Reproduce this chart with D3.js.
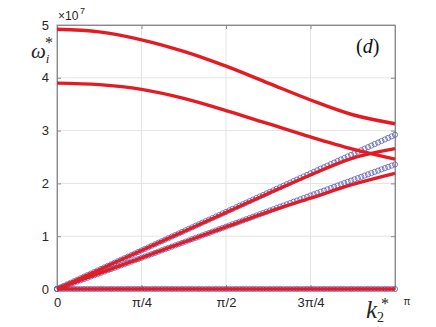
<!DOCTYPE html>
<html>
<head>
<meta charset="utf-8">
<script src="https://cdn.jsdelivr.net/npm/d3@7"></script>
<style>
  body { margin: 0; background: #fff; }
  #chart text { font-family: "Liberation Sans", Arial, sans-serif; }
</style>
</head>
<body>
<div id="chart"></div>
<script>
// k in units of pi, for the dispersion curves (red lines)
const kRed = [0, 0.125, 0.25, 0.375, 0.5, 0.625, 0.75, 0.875, 1];
const redTop = [4.92, 4.87, 4.72, 4.50, 4.22, 3.90, 3.58, 3.30, 3.13];
const redSecond = [3.90, 3.87, 3.78, 3.61, 3.38, 3.13, 2.88, 2.65, 2.46];
const redRiseUpper = [0, 0.365, 0.73, 1.09, 1.45, 1.81, 2.16, 2.48, 2.66];
const redRiseLower = [0, 0.295, 0.59, 0.885, 1.175, 1.46, 1.72, 1.98, 2.19];
const redBottom = [0, 0, 0, 0, 0, 0, 0, 0, 0];

// circle markers (blue), 101 samples over [0, pi]
const kBlue = d3.range(101).map(i => i / 100);
const blueUpper = [
  0, .029, .058, .088, .117, .146, .175, .204, .234, .263,
  .292, .321, .350, .380, .409, .438, .467, .496, .526, .555,
  .584, .613, .642, .672, .701, .730, .759, .788, .818, .847,
  .876, .905, .934, .964, .993, 1.022, 1.051, 1.080, 1.110, 1.139,
  1.168, 1.197, 1.226, 1.256, 1.285, 1.314, 1.343, 1.372, 1.402, 1.431,
  1.460, 1.489, 1.518, 1.548, 1.577, 1.606, 1.635, 1.664, 1.694, 1.723,
  1.752, 1.781, 1.810, 1.840, 1.869, 1.898, 1.927, 1.956, 1.986, 2.015,
  2.044, 2.073, 2.102, 2.132, 2.161, 2.190, 2.219, 2.248, 2.278, 2.307,
  2.336, 2.365, 2.394, 2.424, 2.453, 2.482, 2.511, 2.540, 2.570, 2.599,
  2.628, 2.657, 2.686, 2.716, 2.745, 2.774, 2.803, 2.832, 2.862, 2.891,
  2.920
];
const blueLower = [
  0, .024, .047, .071, .094, .118, .142, .165, .189, .212,
  .236, .260, .283, .307, .330, .354, .378, .401, .425, .448,
  .472, .496, .519, .543, .566, .590, .614, .637, .661, .684,
  .708, .732, .755, .779, .802, .826, .850, .873, .897, .920,
  .944, .968, .991, 1.015, 1.038, 1.062, 1.086, 1.109, 1.133, 1.156,
  1.180, 1.204, 1.227, 1.251, 1.274, 1.298, 1.322, 1.345, 1.369, 1.392,
  1.416, 1.440, 1.463, 1.487, 1.510, 1.534, 1.558, 1.581, 1.605, 1.628,
  1.652, 1.676, 1.699, 1.723, 1.746, 1.770, 1.794, 1.817, 1.841, 1.864,
  1.888, 1.912, 1.935, 1.959, 1.982, 2.006, 2.030, 2.053, 2.077, 2.100,
  2.124, 2.148, 2.171, 2.195, 2.218, 2.242, 2.266, 2.289, 2.313, 2.336,
  2.360
];
const blueBottom = [
  0, 0, 0, 0, 0, 0, 0, 0, 0, 0, 0, 0, 0, 0, 0, 0, 0, 0, 0, 0,
  0, 0, 0, 0, 0, 0, 0, 0, 0, 0, 0, 0, 0, 0, 0, 0, 0, 0, 0, 0,
  0, 0, 0, 0, 0, 0, 0, 0, 0, 0, 0, 0, 0, 0, 0, 0, 0, 0, 0, 0,
  0, 0, 0, 0, 0, 0, 0, 0, 0, 0, 0, 0, 0, 0, 0, 0, 0, 0, 0, 0,
  0, 0, 0, 0, 0, 0, 0, 0, 0, 0, 0, 0, 0, 0, 0, 0, 0, 0, 0, 0,
  0
];

const xTicks = [0, 0.25, 0.5, 0.75, 1];
const xTickLabels = ["0", "\u03c0/4", "\u03c0/2", "3\u03c0/4", "\u03c0"];
const yTicks = [0, 1, 2, 3, 4, 5];

const W = 436, H = 327;
const margin = { top: 25, right: 41, bottom: 38, left: 57 };
const width = W - margin.left - margin.right;
const height = H - margin.top - margin.bottom;

const svg = d3.select("#chart").append("svg")
  .attr("width", W).attr("height", H);

const g = svg.append("g")
  .attr("transform", `translate(${margin.left},${margin.top})`);

const x = d3.scaleLinear().domain([0, 1]).range([0, width]);
const y = d3.scaleLinear().domain([0, 5]).range([height, 0]);

// grid
g.append("g").selectAll("line.gx")
  .data(xTicks.slice(1, -1)).enter().append("line")
  .attr("x1", d => x(d)).attr("x2", d => x(d))
  .attr("y1", 0).attr("y2", height)
  .attr("stroke", "#e4e4e4").attr("stroke-width", 1);
g.append("g").selectAll("line.gy")
  .data(yTicks.slice(1, -1)).enter().append("line")
  .attr("x1", 0).attr("x2", width)
  .attr("y1", d => y(d)).attr("y2", d => y(d))
  .attr("stroke", "#e4e4e4").attr("stroke-width", 1);

// box
g.append("rect")
  .attr("width", width).attr("height", height)
  .attr("fill", "none").attr("stroke", "#9a9a9a").attr("stroke-width", 1);

// axes (inward ticks)
const yAxis = g.append("g")
  .call(d3.axisLeft(y).tickValues(yTicks).tickFormat(d3.format("d"))
    .tickSizeInner(-4).tickSizeOuter(0).tickPadding(8));
const yAxisR = g.append("g").attr("transform", `translate(${width},0)`)
  .call(d3.axisRight(y).tickValues(yTicks).tickSizeInner(-4).tickSizeOuter(0).tickFormat(""));
const xAxisT = g.append("g")
  .call(d3.axisTop(x).tickValues(xTicks).tickSizeInner(-4).tickSizeOuter(0).tickFormat(""));
const xAxis = g.append("g").attr("transform", `translate(0,${height})`)
  .call(d3.axisBottom(x).tickValues(xTicks.slice(0, -1))
    .tickFormat((d, i) => xTickLabels[i]).tickSizeInner(-4).tickSizeOuter(0).tickPadding(9));
[yAxis, yAxisR, xAxisT, xAxis].forEach(a => {
  a.select(".domain").attr("stroke", "#8a8a8a");
  a.selectAll(".tick line").attr("stroke", "#8a8a8a");
  a.selectAll("text").attr("fill", "#262626").style("font-size", "13px");
});

// pi label sits beside the k label
g.append("text")
  .attr("x", x(1) + 12).attr("y", height + 16)
  .attr("fill", "#262626").style("font-size", "10px")
  .attr("text-anchor", "middle")
  .text(xTickLabels[4]);

// blue circles
const blueSets = [blueBottom, blueLower, blueUpper];
blueSets.forEach(vals => {
  g.append("g").selectAll("circle")
    .data(vals).enter().append("circle")
    .attr("cx", (d, i) => x(kBlue[i]))
    .attr("cy", d => y(d))
    .attr("r", 2.6)
    .attr("fill", "none")
    .attr("stroke", "#5a5ab4")
    .attr("stroke-width", 0.8);
});

// red lines
const line = d3.line()
  .x((d, i) => x(kRed[i]))
  .y(d => y(d))
  .curve(d3.curveCatmullRom.alpha(0.5));
[redBottom, redRiseLower, redRiseUpper, redSecond, redTop].forEach(vals => {
  g.append("path")
    .datum(vals)
    .attr("fill", "none")
    .attr("stroke", "#e31b23")
    .attr("stroke-width", 3.4)
    .attr("d", line);
});

// exponent
svg.append("text")
  .attr("x", 58).attr("y", 20)
  .attr("fill", "#262626").style("font-size", "12px")
  .text("\u00d710");
svg.append("text")
  .attr("x", 80).attr("y", 14)
  .attr("fill", "#262626").style("font-size", "9px")
  .text("7");

// y label
const yl = svg.append("text")
  .attr("x", 31).attr("y", 58)
  .style("font-family", "'Liberation Serif', 'Times New Roman', serif")
  .style("font-style", "italic")
  .attr("fill", "#262626");
yl.append("tspan").style("font-size", "21px").text("\u03c9");
yl.append("tspan").attr("dx", 0).attr("dy", 5).style("font-size", "13px").text("i");
svg.append("text")
  .attr("x", 45).attr("y", 48)
  .style("font-family", "'Liberation Serif', 'Times New Roman', serif")
  .style("font-size", "16px").attr("fill", "#262626")
  .text("*");

// x label
const xl = svg.append("text")
  .attr("x", 366).attr("y", 318)
  .style("font-family", "'Liberation Serif', 'Times New Roman', serif")
  .style("font-style", "italic")
  .attr("fill", "#262626");
xl.append("tspan").style("font-size", "25px").text("k");
xl.append("tspan").attr("dy", 4).style("font-size", "14px").style("font-style", "normal").text("2");
svg.append("text")
  .attr("x", 381).attr("y", 309)
  .style("font-family", "'Liberation Serif', 'Times New Roman', serif")
  .style("font-size", "16px").attr("fill", "#262626")
  .text("*");

// panel tag
const tag = svg.append("text")
  .attr("x", 356).attr("y", 53)
  .style("font-family", "'Liberation Serif', 'Times New Roman', serif")
  .style("font-size", "20px").attr("fill", "#111");
tag.append("tspan").text("(");
tag.append("tspan").style("font-style", "italic").text("d");
tag.append("tspan").text(")");
</script>
</body>
</html>
